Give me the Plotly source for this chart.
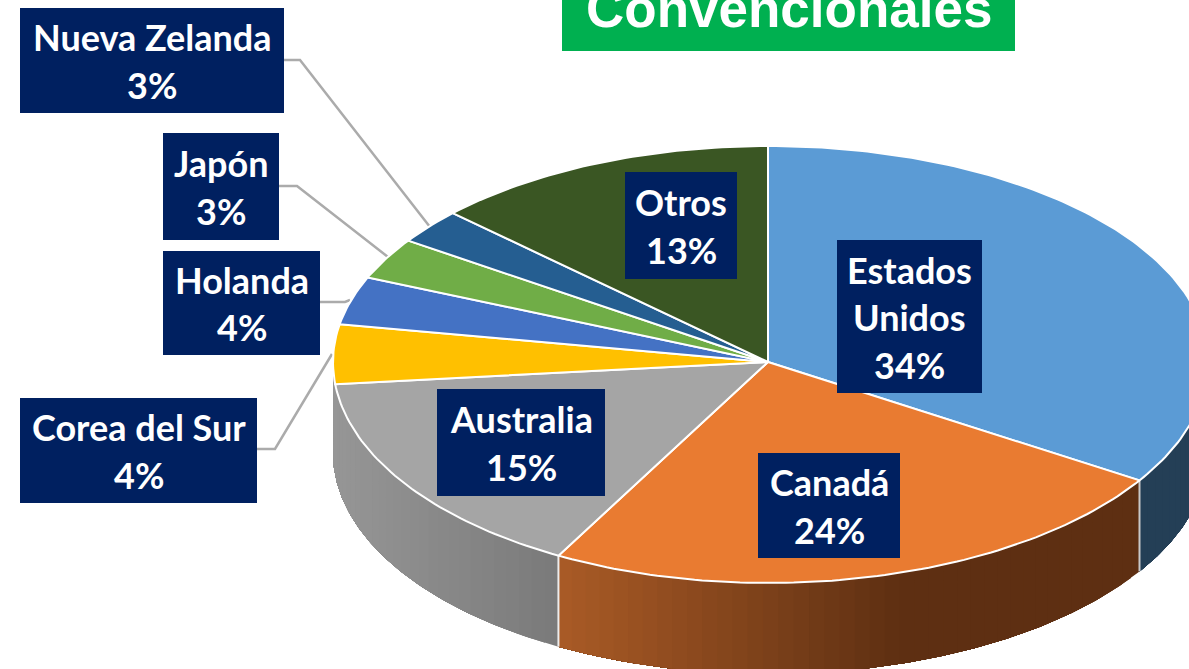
import math
import plotly.graph_objects as go

# ---- data ----
countries = ["Estados Unidos", "Canadá", "Australia", "Corea del Sur", "Holanda", "Japón", "Nueva Zelanda", "Otros"]
shares = [34.0, 24.0, 15.4, 4.4, 3.6, 3.1, 2.6, 12.9]
slice_colors = ["#5B9BD5", "#E97B31", "#A5A5A5", "#FFC000", "#4472C4", "#70AD47", "#255E91", "#3A5623"]
title_text = "Convencionales"
label_lines = [["Estados", "Unidos", "34%"], ["Canadá", "24%"], ["Australia", "15%"], ["Corea del Sur", "4%"],
               ["Holanda", "4%"], ["Japón", "3%"], ["Nueva Zelanda", "3%"], ["Otros", "13%"]]

# ---- geometry / style ----
CX, CY, RX_LEFT, RX_RIGHT, RY_UP, RY_DOWN, DEPTH = 768, 362, 435, 440, 216, 221, 91
NAVY = "#002060"
boxes = [(837, 982, 240, 393), (758, 900, 453, 558), (437, 605, 389, 496), (20, 257, 398, 503),
         (163, 320, 251, 355), (163, 279, 133, 240), (20, 284, 8, 113), (625, 737, 172, 279)]
leaders = [((284, 300, 430), (60, 60, 227)), ((279, 297, 388), (186, 186, 257)),
           ((320, 345, 350), (302, 302, 300)), ((257, 275, 332), (449, 449, 354))]


def rim(deg, drop=0):
    a = math.radians(deg)
    c, s = math.cos(a), math.sin(a)
    return CX + (RX_RIGHT if s > 0 else RX_LEFT) * s, CY - (RY_UP if c > 0 else RY_DOWN) * c + drop


def arc(a, b, drop=0, step=1.0):
    n = max(2, int(abs(b - a) / step) + 1)
    pts = [rim(a + (b - a) * i / (n - 1), drop) for i in range(n)]
    return [p[0] for p in pts], [p[1] for p in pts]


def mix(c1, c2, f):
    f = max(0, min(1, f))
    return "rgb(%d,%d,%d)" % tuple(round(c1[i] + (c2[i] - c1[i]) * f) for i in range(3))


edges = [0]
for s in shares:
    edges.append(edges[-1] + s * 3.6)

fig = go.Figure()


def add_poly(xs, ys, fill, line=None, width=0.0):
    fig.add_trace(go.Scatter(x=xs, y=ys, mode="lines", fill="toself", fillcolor=fill,
                             line=dict(color=line or fill, width=width), hoverinfo="skip", showlegend=False))


# leader lines
for lx, ly in leaders:
    fig.add_trace(go.Scatter(x=list(lx), y=list(ly), mode="lines", line=dict(color="#ABABAB", width=2.5),
                             hoverinfo="skip", showlegend=False))


# side wall: blue, orange, grey parts with horizontal gradient
def side_color(i, x):
    if i == 0:
        return "rgb(36,63,86)"
    if i == 1:
        return mix((170, 91, 38), (94, 47, 18), (x - 558) / (900 - 558))
    return mix((150, 150, 150), (122, 122, 122), (x - 333) / (558 - 333))


side_ranges = [(90, edges[1]), (edges[1], edges[2]), (edges[2], 270)]
for i, (a, b) in enumerate(side_ranges):
    n = max(1, int((b - a) / 2))
    for k in range(n):
        # each strip runs to the end of its part; the next one paints over it, so no seams
        t0 = a + (b - a) * k / n
        t1 = a + (b - a) * (k + 1) / n
        xa, ya = arc(t0, b, 0, 0.5)
        xb, yb = arc(b, t0, DEPTH, 0.5)
        mx = (rim(t0)[0] + rim(t1)[0]) / 2
        add_poly(xa + xb, ya + yb, side_color(i, mx))

# separators on the side wall
for idx, col in ((1, "#C8C8C8"), (2, "#EDEDED")):
    x0, y0 = rim(edges[idx])
    x1, y1 = rim(edges[idx], DEPTH)
    fig.add_trace(go.Scatter(x=[x0, x1], y=[y0, y1], mode="lines", line=dict(color=col, width=2),
                             hoverinfo="skip", showlegend=False))

# top face
for i, col in enumerate(slice_colors):
    xs, ys = arc(edges[i], edges[i + 1])
    add_poly([CX] + xs + [CX], [CY] + ys + [CY], col, line="#FFFFFF", width=2)

# label boxes + title bar
shapes = [dict(type="rect", x0=x0, x1=x1, y0=y0, y1=y1, fillcolor=NAVY, line=dict(width=0), layer="above")
          for x0, x1, y0, y1 in boxes]
shapes.append(dict(type="rect", x0=562, x1=1015, y0=-5, y1=51, fillcolor="#00B050", line=dict(width=0), layer="above"))

annotations = []
for (x0, x1, y0, y1), lines in zip(boxes, label_lines):
    cy = (y0 + y1) / 2 + 0.5
    for j, t in enumerate(lines):
        annotations.append(dict(x=(x0 + x1) / 2, y=cy + (j - (len(lines) - 1) / 2) * 47.5, text="<b>%s</b>" % t,
                                showarrow=False, xanchor="center", yanchor="middle",
                                font=dict(family="Lato", size=36, color="#FFFFFF")))
annotations.append(dict(x=789, y=8, text="<b>%s</b>" % title_text, showarrow=False, xanchor="center",
                        yanchor="middle", font=dict(family="Liberation Sans", size=53, color="#FFFFFF")))

fig.update_layout(width=1189, height=669, margin=dict(l=0, r=0, t=0, b=0), paper_bgcolor="#FFFFFF",
                  plot_bgcolor="#FFFFFF", showlegend=False, shapes=shapes, annotations=annotations,
                  xaxis=dict(range=[0, 1189], visible=False, fixedrange=True),
                  yaxis=dict(range=[669, 0], visible=False, fixedrange=True))

fig.write_html("out.html", config=dict(displayModeBar=False),
               post_script="document.body.style.margin='0';document.body.style.overflow='hidden';")
